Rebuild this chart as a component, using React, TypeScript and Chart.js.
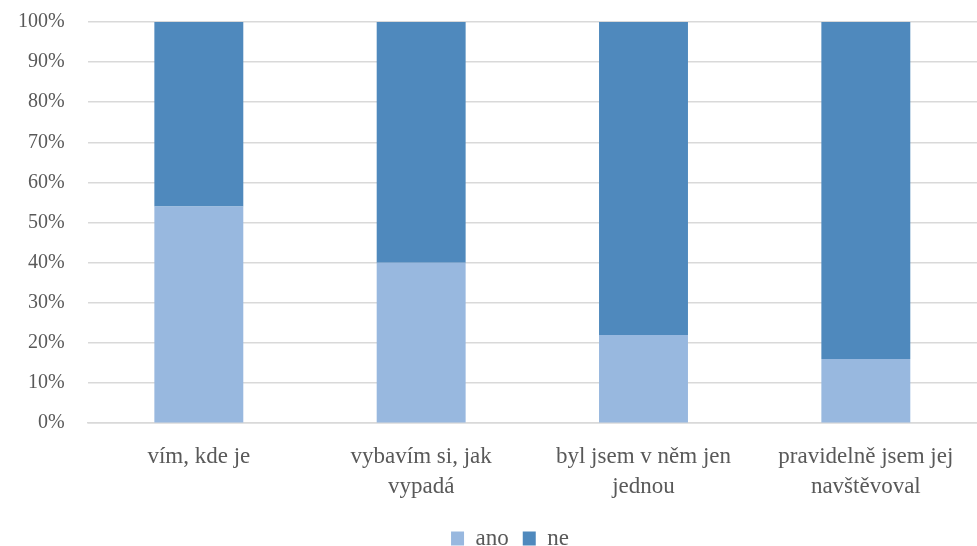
import React, { useEffect, useRef } from "react";
import { Chart, registerables } from "chart.js";

Chart.register(...registerables);

const categories: (string | string[])[] = [
  "vím, kde je",
  ["vybavím si, jak", "vypadá"],
  ["byl jsem v něm jen", "jednou"],
  ["pravidelně jsem jej", "navštěvoval"],
];
const anoValues = [54, 40, 22, 16];
const neValues = [46, 60, 78, 84];
const yTicks = [0, 10, 20, 30, 40, 50, 60, 70, 80, 90, 100];

const FONT = "'Liberation Serif', 'DejaVu Serif', serif";
const TEXT = "#595959";

const legendShift = {
  id: "legendShift",
  afterLayout(chart: any) {
    const l = chart.legend;
    if (l) {
      l.left += 24;
      l.right += 24;
    }
  },
};

export default function App() {
  const ref = useRef<HTMLCanvasElement>(null);
  useEffect(() => {
    if (!ref.current) return;
    const chart = new Chart(ref.current, {
      type: "bar",
      data: {
        labels: categories,
        datasets: [
          { label: "ano", data: anoValues, backgroundColor: "#98b8df", barPercentage: 0.4, categoryPercentage: 1 },
          { label: "ne", data: neValues, backgroundColor: "#4f89bd", barPercentage: 0.4, categoryPercentage: 1 },
        ],
      },
      plugins: [legendShift],
      options: {
        animation: false,
        responsive: true,
        maintainAspectRatio: false,
        layout: { padding: { top: 22, left: -5, right: 0, bottom: -14 } },
        plugins: {
          legend: {
            position: "bottom",
            labels: { font: { family: FONT, size: 23 }, color: TEXT, boxWidth: 13, boxHeight: 14, padding: 14 },
          },
          tooltip: { enabled: false },
        },
        scales: {
          x: {
            stacked: true,
            grid: { display: false },
            border: { display: true, color: "#d9d9d9", width: 1.5 },
            ticks: { font: { family: FONT, size: 23, lineHeight: 1.3 }, color: TEXT, padding: 11, maxRotation: 0 },
          },
          y: {
            stacked: true,
            min: 0,
            max: 100,
            afterBuildTicks: (axis: any) => {
              axis.ticks = yTicks.map((v) => ({ value: v }));
            },
            afterFit: (scale: any) => {
              scale.paddingTop = 0;
              scale.paddingBottom = 0;
            },
            grid: { color: "#d9d9d9", lineWidth: 1.5, drawTicks: false },
            border: { display: false },
            ticks: {
              font: { family: FONT, size: 20 },
              color: TEXT,
              padding: 23,
              callback: (v: any) => v + "%",
            },
          },
        },
      },
    });
    return () => chart.destroy();
  }, []);
  return (
    <div style={{ position: "fixed", left: 0, top: 0, width: 977, height: 546, background: "#fff" }}>
      <canvas ref={ref} />
    </div>
  );
}
